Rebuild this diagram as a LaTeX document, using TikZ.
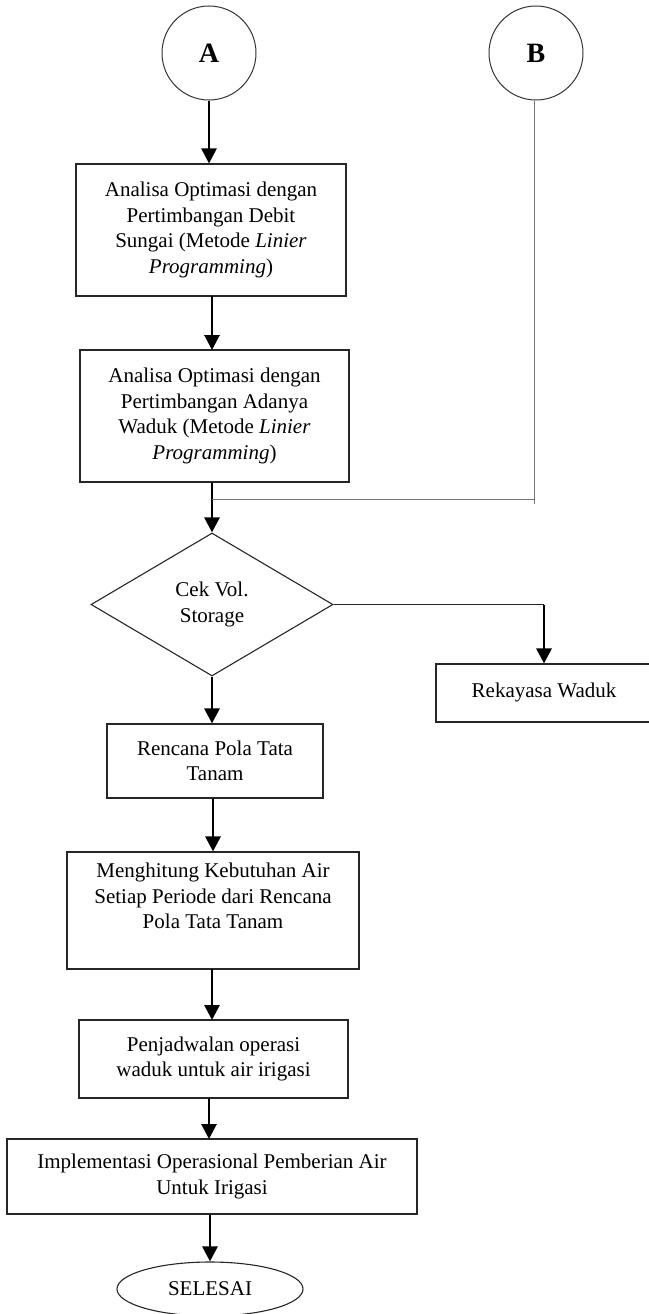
\documentclass[tikz,border=0pt]{standalone}
\usepackage{fontspec}
\setmainfont{Liberation Serif}
\usetikzlibrary{arrows.meta,shapes.geometric,calc}
\begin{document}
\begin{tikzpicture}[x=1pt,y=-1pt,
  box/.style={draw=black!85,line width=1.1pt,rectangle,inner sep=0pt,align=center,font=\fontsize{21}{25.5}\selectfont},
  circ/.style={draw=black!80,line width=1pt,circle,minimum size=94pt,inner sep=0pt,font=\fontsize{28}{32}\selectfont\bfseries},
  arr/.style={line width=2.8pt,-{Triangle[width=15pt,length=15pt]}},
  thinline/.style={draw=black!55,line width=1.2pt},
  darkline/.style={draw=black!85,line width=1.2pt},
]
\useasboundingbox (0,0) rectangle (648,1314);

\node[circ] (A) at (209,53) {A};
\node[circ] (B) at (536,53) {B};

\node[box,minimum width=270pt,minimum height=132pt] (b1) at (211,230)
  {Analisa Optimasi dengan\\Pertimbangan Debit\\Sungai (Metode \textit{Linier}\\\textit{Programming})};
\node[box,minimum width=269pt,minimum height=132pt] (b2) at (214.5,416)
  {Analisa Optimasi dengan\\Pertimbangan Adanya\\Waduk (Metode \textit{Linier}\\\textit{Programming})};
\node[box,diamond,minimum width=242pt,minimum height=143pt] (dia) at (212,604.5)
  {Cek Vol.\\Storage};
\node[box,minimum width=216pt,minimum height=58pt] (rek) at (544,693)
  {\raisebox{6pt}{Rekayasa Waduk}};
\node[box,minimum width=216pt,minimum height=74pt] (renc) at (215,761)
  {Rencana Pola Tata\\Tanam};
\node[box,minimum width=292pt,minimum height=117pt] (meng) at (213,910.5)
  {Menghitung Kebutuhan Air\\Setiap Periode dari Rencana\\Pola Tata Tanam\\[4pt]};
\node[box,minimum width=269pt,minimum height=78pt] (penj) at (213.5,1059)
  {Penjadwalan operasi\\waduk untuk air irigasi};
\node[box,minimum width=410pt,minimum height=75pt] (impl) at (212,1176.5)
  {Implementasi Operasional Pemberian Air\\Untuk Irigasi};
\node[box,ellipse,minimum width=186pt,minimum height=54pt] (sel) at (210,1289)
  {SELESAI};

\coordinate (j) at (212,499.5);
\coordinate (bEnd) at (534.5,504);

\draw[arr] (A.south) -- (A.south |- b1.north);
\draw[arr] (212,296) -- (212,350);
\draw[arr] (dia.north |- b2.south) -- (dia.north);
\draw[thinline] (B.south -| bEnd) -- (bEnd);
\draw[thinline] (j) -- (bEnd |- j);
\draw[darkline] (dia.east) -- (dia.east -| rek.north);
\draw[arr] (dia.east -| rek.north) -- (rek.north);
\draw[arr] (dia.south) -- (dia.south |- renc.north);
\draw[arr] (meng.north |- renc.south) -- (meng.north);
\draw[arr] (212,969) -- (212,1020);
\draw[arr] (209,1098) -- (209,1139);
\draw[arr] (sel.north |- impl.south) -- (sel.north);
\end{tikzpicture}
\end{document}
